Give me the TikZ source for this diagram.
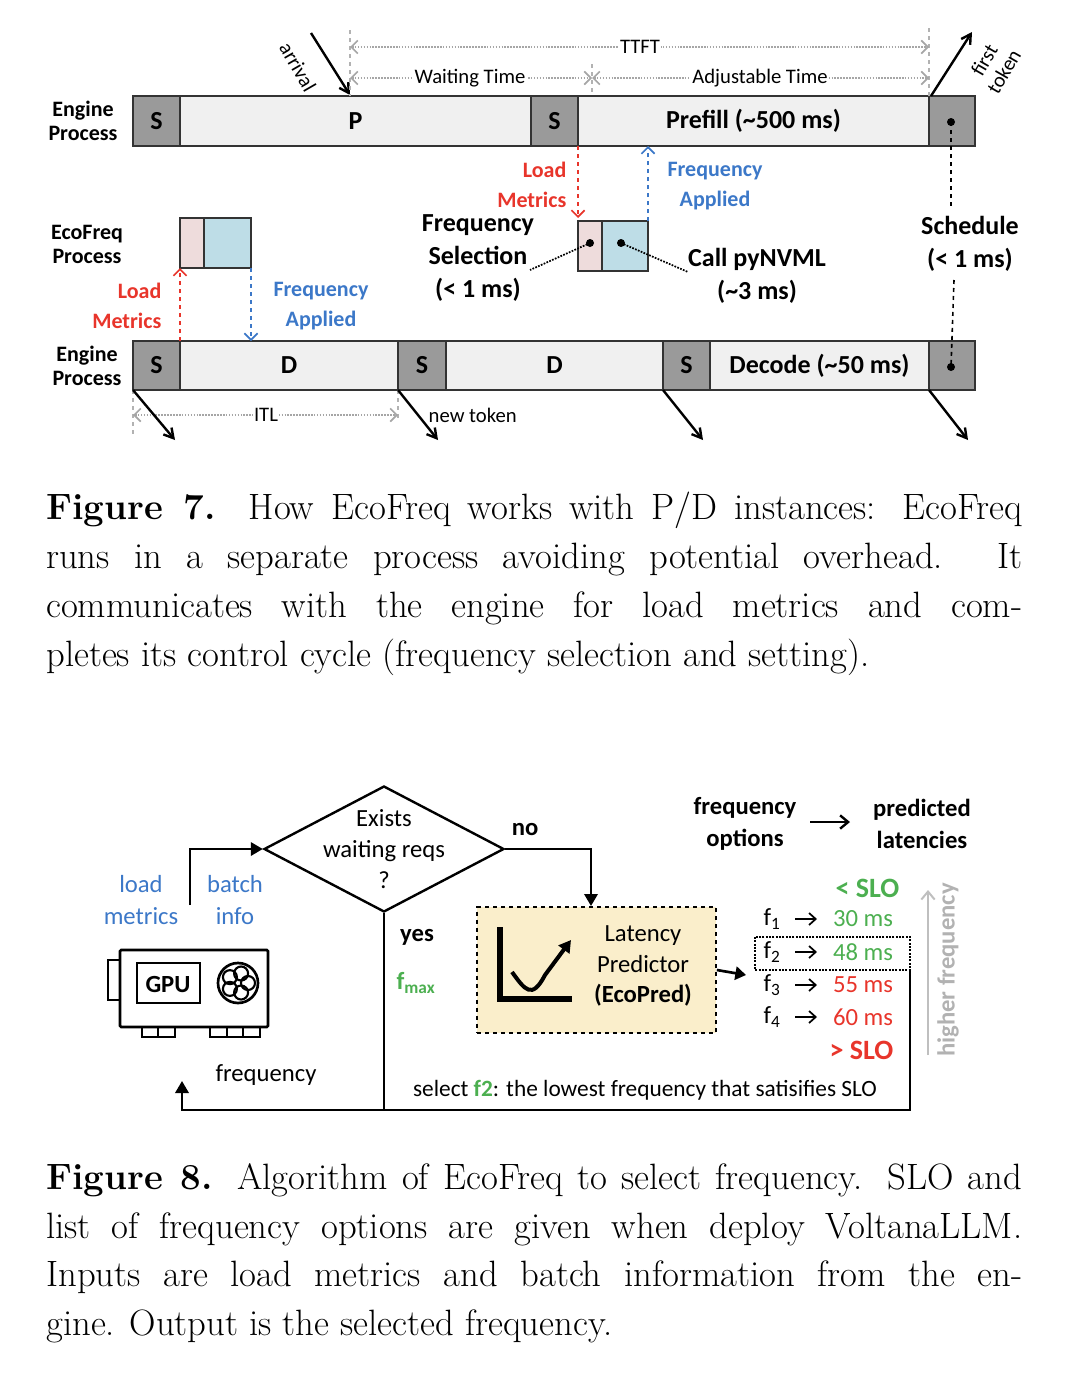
\documentclass[tikz,border=0pt]{standalone}
\usepackage{fontspec}
\setmainfont{Carlito}
\newfontfamily\capfont{Latin Modern Roman}
\usetikzlibrary{arrows.meta,shapes.geometric}
\definecolor{cred}{HTML}{E8352B}
\definecolor{cblue}{HTML}{3C78C8}
\definecolor{cgreen}{HTML}{4CAF50}
\definecolor{sgray}{HTML}{9A9A9A}
\definecolor{lgray}{HTML}{F0F0F0}
\definecolor{cpink}{HTML}{EEDCDC}
\definecolor{cbox}{HTML}{BEDDE7}
\definecolor{cbeige}{HTML}{FAEECB}
\begin{document}
\begin{tikzpicture}[x=0.75pt,y=-0.75pt,
  lab/.style={font=\fontsize{16.5}{19}\selectfont\bfseries,align=center},
  bl/.style={font=\fontsize{19.5}{22}\selectfont\bfseries},
  sg/.style={draw=black!80,line width=1.5pt,fill=sgray},
  lg/.style={draw=black!80,line width=1.5pt,fill=lgray},
  gdim/.style={gray!70,densely dotted,line width=1.2pt,{Straight Barb[length=5pt]}-{Straight Barb[length=5pt]}},
  gv/.style={gray!60,dashed,line width=0.8pt},
  big/.style={-{Straight Barb[length=7pt,width=8pt]},line width=1.8pt},
  dim/.style={font=\fontsize{15.5}{17}\selectfont,fill=white,inner sep=1pt},
  capt/.style={text width=732pt,align=justify,font=\capfont\fontsize{27.5}{36.6}\selectfont,inner sep=0pt,anchor=north west},
  fl/.style={font=\fontsize{18.5}{21}\selectfont,align=center}]
\useasboundingbox (0,0) rectangle (1078,1392);
% ---- Figure 7 ----
\node[lab] (ep1) at (83,121) {Engine\\[-1pt]Process};
\node[lab] (ep2) at (87,366) {Engine\\[-1pt]Process};
\node[lab] (efp) at (87,244) {EcoFreq\\[-1pt]Process};
% top bar
\draw[sg] (133,96) rectangle (180,146) node[midway,bl] (s1) {S};
\draw[lg] (180,96) rectangle (531,146) node[midway,bl] (p1) {P};
\draw[sg] (531,96) rectangle (578,146) node[midway,bl] (s2) {S};
\draw[lg] (578,96) rectangle (929,146) node[midway,bl] (pf) {Prefill (\textasciitilde500 ms)};
\draw[sg] (929,96) rectangle (975,146);
\fill (951,122) circle (4) coordinate (dt);
% bottom bar
\draw[sg] (133,341) rectangle (180,390) node[midway,bl] {S};
\draw[lg] (180,341) rectangle (398,390) node[midway,bl] {D};
\draw[sg] (398,341) rectangle (446,390) node[midway,bl] {S};
\draw[lg] (446,341) rectangle (663,390) node[midway,bl] {D};
\draw[sg] (663,341) rectangle (710,390) node[midway,bl] {S};
\draw[lg] (710,341) rectangle (929,390) node[midway,bl] {Decode (\textasciitilde50 ms)};
\draw[sg] (929,341) rectangle (975,390);
\fill (951,367) circle (4) coordinate (db);
% ecofreq boxes
\draw[fill=cpink,draw=black!80,line width=1pt] (180,218) rectangle (204,268);
\draw[fill=cbox,draw=black!80,line width=1pt] (204,218) rectangle (251,268);
\draw[fill=cpink,draw=black!80,line width=1pt] (578,221) rectangle (602,271);
\draw[fill=cbox,draw=black!80,line width=1pt] (602,221) rectangle (648,271);
\fill (590,243) circle (4) coordinate (d1);
\fill (621,243) circle (4) coordinate (d2);
% dashed signals
\draw[cred,dashed,line width=1.2pt,-{Straight Barb[length=5pt]}] (578,146) -- (578,218);
\draw[cblue,dashed,line width=1.2pt,-{Straight Barb[length=5pt]}] (648,221) -- (648,146);
\draw[cred,dashed,line width=1.2pt,-{Straight Barb[length=5pt]}] (180,341) -- (180,268);
\draw[cblue,dashed,line width=1.2pt,-{Straight Barb[length=5pt]}] (251,268) -- (251,341);
\node[lab,cred,align=right,anchor=east] at (571,185) {Load\\[3pt]Metrics};
\node[lab,cblue] at (715,186) {Frequency\\[3pt]Applied};
\node[lab,cred,align=right,anchor=east] at (166,306) {Load\\[3pt]Metrics};
\node[lab,cblue] at (321,306) {Frequency\\[3pt]Applied};
\node[lab,font=\fontsize{19.5}{24.5}\selectfont\bfseries] (fs) at (478,258) {Frequency\\Selection\\(< 1 ms)};
\node[lab,font=\fontsize{19.5}{24.5}\selectfont\bfseries] (cp) at (757,276) {Call pyNVML\\(\textasciitilde3 ms)};
\node[lab,font=\fontsize{19.5}{24.5}\selectfont\bfseries] (sc) at (970,244) {Schedule\\(< 1 ms)};
\draw[densely dotted,line width=1.3pt] (d1) -- (530,270);
\draw[densely dotted,line width=1.3pt] (d2) -- (688,272);
\draw[dashed,line width=1.2pt] (dt) -- (951,208);
\draw[dashed,line width=1.2pt] (954,280) -- (db);
% arrival / first token
\draw[big] (311,33) -- (350,95);
\node[font=\fontsize{15.5}{17}\selectfont,rotate=-60] at (298,67) {arrival};
\draw[big] (931,96) -- (972,32);
\node[font=\fontsize{15.5}{17}\selectfont,rotate=60,align=center] at (994,66) {first\\token};
% dimension lines
\draw[gv] (350,30) -- (350,96); \draw[gv] (929,28) -- (929,96); \draw[gv] (592,64) -- (592,96);
\draw[gdim] (350,47) -- (929,47); \node[dim] at (640,47) {TTFT};
\draw[gdim] (350,78) -- (592,78); \node[dim] at (470,78) {Waiting Time};
\draw[gdim] (592,78) -- (929,78); \node[dim] at (760,78) {Adjustable Time};
\draw[gv] (133,390) -- (133,436); \draw[gv] (398,390) -- (398,422);
\draw[gdim] (133,415) -- (398,415); \node[dim] at (266,415) {ITL};
\draw[big] (133,390) -- (175,440);
\draw[big] (398,390) -- (438,440);
\draw[big] (663,390) -- (703,440);
\draw[big] (929,390) -- (968,440);
\node[font=\fontsize{15.5}{17}\selectfont,anchor=west] at (424,415) {new token};
% caption 7
\node[capt] at (46,492) {\textbf{Figure 7.} How EcoFreq works with P/D instances: EcoFreq\linebreak runs in a separate process avoiding potential overhead. It\linebreak communicates with the engine for load metrics and com-\linebreak pletes its control cycle (frequency selection and setting).};
% ---- Figure 8 ----
\node[diamond,draw,line width=1.8pt,inner sep=0pt,minimum width=180pt,minimum height=94.5pt] (dia) at (384,849) {};
\node[fl] at (384,849) {Exists\\[2pt]waiting reqs\\[2pt]?};
\draw[line width=1.8pt,-{Triangle[length=9pt,width=10pt]}] (190,905) |- (dia.west);
\node[fl,font=\fontsize{18.5}{21}\selectfont\bfseries] at (525,830) {no};
\draw[line width=1.8pt,-{Triangle[length=9pt,width=10pt]}] (dia.east) -| (591,906);
\node[draw,dashed,line width=1.5pt,fill=cbeige,minimum width=179pt,minimum height=94.5pt] (pred) at (596.5,970) {};
\node[fl,anchor=center] at (643,966) {Latency\\[2pt]Predictor\\[2pt]\textbf{(EcoPred)}};
\draw[line width=4pt] (500,927) -- (500,999) -- (572,999);
\draw[line width=3pt,-{Triangle[length=9pt,width=10pt]}] (512,972) .. controls (525,990) and (532,1000) .. (545,975) -- (571,940);
\draw[line width=2pt,-{Triangle[length=8pt,width=10pt]}] (pred.east) -- (746,975);
\node[fl,font=\fontsize{18.5}{21}\selectfont\bfseries] at (417,937) {yes};
\node[fl,font=\fontsize{18.5}{21}\selectfont\bfseries,cgreen] at (416,983) {f\textsubscript{max}};
\draw[line width=1.8pt] (dia.south) -- (384,1110);
\draw[line width=1.8pt,-{Triangle[length=9pt,width=10pt]}] (910,970) -- (910,1110) -- (182,1110) -- (182,1081);
\node[fl] at (266,1075) {frequency};
\node[fl,cblue] at (141,900) {load\\[3pt]metrics};
\node[fl,cblue] at (235,900) {batch\\[3pt]info};
% GPU icon
\draw[line width=2pt,rounded corners=1pt] (120,950) rectangle (268,1027);
\draw[line width=2pt] (120,960) -- (108,960) -- (108,1000) -- (120,1000);
\draw[line width=2pt] (137,963) rectangle (200,1003);
\node[font=\fontsize{18.5}{21}\selectfont\bfseries] at (168,984) {GPU};
\draw[line width=2pt] (238,983) circle (20);
\foreach \a in {0,72,144,216,288}{\draw[line width=1.6pt] (238,983) ++(\a:10) circle (7);}
\draw[line width=2pt] (142,1027) rectangle (175,1037) (158,1027) -- (158,1037);
\draw[line width=2pt] (210,1027) rectangle (260,1037) (227,1027) -- (227,1037) (243,1027) -- (243,1037);
% options
\node[fl,font=\fontsize{18.5}{24}\selectfont\bfseries] at (745,824) {frequency\\options};
\draw[line width=1.8pt,-{Straight Barb[length=6pt,width=10pt]}] (810,822) -- (850,822);
\node[fl,font=\fontsize{18.5}{24}\selectfont\bfseries] at (922,824) {predicted\\latencies};
\node[fl,font=\fontsize{21}{22}\selectfont\bfseries,cgreen,anchor=east] at (904,888) {< SLO};
\node[fl,font=\fontsize{21}{22}\selectfont\bfseries,cred,anchor=east] at (898,1050) {> SLO};
\foreach \f/\v/\y/\c in {1/30/919/cgreen,2/48/952/cgreen,3/55/985/cred,4/60/1017/cred}{
  \node[fl] at (772,\y) {f\textsubscript{\f}};
  \draw[line width=1.3pt,-{Straight Barb[length=5pt,width=9pt]}] (795,\y) -- (817,\y);
  \node[fl,\c] at (863,\y) {\v\ ms};
}
\draw[densely dotted,line width=1.5pt] (755,937) rectangle (910,970);
\draw[gray!50,line width=1.5pt,-{Straight Barb[length=6pt,width=10pt]}] (928,1055) -- (928,890);
\node[fl,gray!60,font=\fontsize{18.5}{21}\selectfont\bfseries,rotate=90] at (948,970) {higher frequency};
\node[fl,font=\fontsize{17.5}{21}\selectfont] at (645,1090) {select \textcolor{cgreen}{\textbf{f2}}: the lowest frequency that satisifies SLO};
% caption 8
\node[capt] at (46,1163) {\textbf{Figure 8.} Algorithm of EcoFreq to select frequency. SLO and\linebreak list of frequency options are given when deploy VoltanaLLM.\linebreak Inputs are load metrics and batch information from the en-\linebreak gine. Output is the selected frequency.};
\end{tikzpicture}
\end{document}
